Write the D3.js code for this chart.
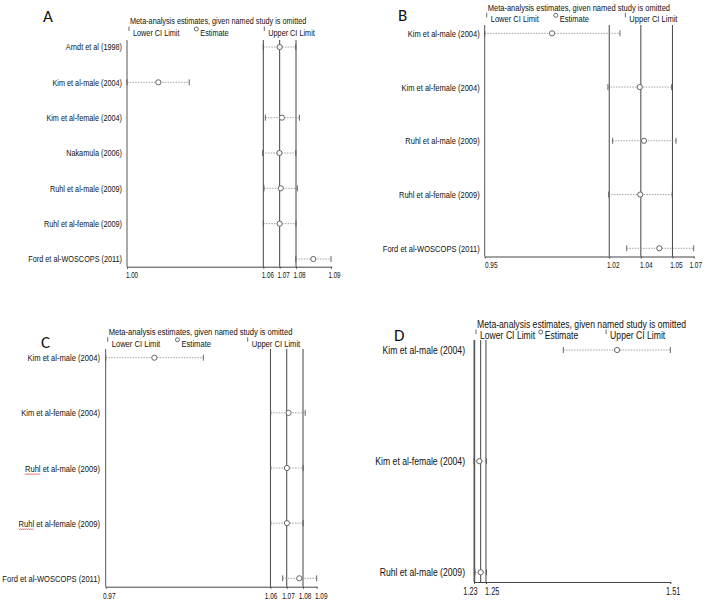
<!DOCTYPE html>
<meta charset="utf-8">
<head>
  <script src="https://d3js.org/d3.v7.min.js"></script>
</head>
<style>
  body { margin: 0; background: #fff; }
  svg text { fill: #111; font-family: "Liberation Sans", Arial, sans-serif; }
  .letter { font-family: Carlito, Lato, "Open Sans", sans-serif !important; font-size: 17px; fill: #111; }
</style>
<body>
<script>
  // ---- data (pooled estimate with one study omitted) ----
  // panel A
  var studiesA = ["Arndt et al (1998)", "Kim et al-male (2004)", "Kim et al-female (2004)", "Nakamula (2006)",
    "Ruhl et al-male (2009)", "Ruhl et al-female (2009)", "Ford et al-WOSCOPS (2011)"];
  var lowerA = [1.0628, 1.0028, 1.0637, 1.0625, 1.0631, 1.0628, 1.0771];
  var estA = [1.0700, 1.0166, 1.0710, 1.0699, 1.0705, 1.0700, 1.0848];
  var upperA = [1.0771, 1.0302, 1.0787, 1.0771, 1.0778, 1.0772, 1.0926];
  var overallA = [1.0628, 1.0700, 1.0772];
  var ticksA = [1.0028, 1.0628, 1.0700, 1.0772, 1.0926];

  // panel B
  var studiesB = ["Kim et al-male (2004)", "Kim et al-female (2004)", "Ruhl et al-male (2009)",
    "Ruhl et al-female (2009)", "Ford et al-WOSCOPS (2011)"];
  var lowerB = [0.9545, 1.0200, 1.0225, 1.0204, 1.0300];
  var estB = [0.9903, 1.0369, 1.0392, 1.0372, 1.0473];
  var upperB = [1.0264, 1.0539, 1.0562, 1.0542, 1.0656];
  var overallB = [1.0207, 1.0375, 1.0543];
  var ticksB = [0.9545, 1.0207, 1.0375, 1.0543, 1.0656];

  // panel C
  var studiesC = ["Kim et al-male (2004)", "Kim et al-female (2004)", "Ruhl et al-male (2009)",
    "Ruhl et al-female (2009)", "Ford et al-WOSCOPS (2011)"];
  var lowerC = [0.9721, 1.0613, 1.0613, 1.0613, 1.0678];
  var estC = [0.9984, 1.0710, 1.0701, 1.0701, 1.0768];
  var upperC = [1.0249, 1.0800, 1.0789, 1.0789, 1.0862];
  var overallC = [1.0612, 1.0700, 1.0788];
  var ticksC = [0.9721, 1.0612, 1.0700, 1.0788, 1.0862];

  // panel D
  var studiesD = ["Kim et al-male (2004)", "Kim et al-female (2004)", "Ruhl et al-male (2009)"];
  var lowerD = [1.3573, 1.2290, 1.2304];
  var estD = [1.4345, 1.2366, 1.2386];
  var upperD = [1.5110, 1.2467, 1.2470];
  var overallD = [1.2300, 1.2386, 1.2462];
  var ticksD = [1.2290, 1.2462, 1.5110];

  var legendTitle = "Meta-analysis estimates, given named study is omitted";
  var legendLabels = ["Lower CI Limit", "Estimate", "Upper CI Limit"];

  // ---- layout ----
  var panels = [
    { letter: "A", lx: 43, ly: 22, x0: 127, x1: 331, lineTop: 40, axisY: 266.7, rowTop: 47, rowBot: 259, gap: 5, titleW: 176.6,
      tickDx: [4.5, 4, 3.5, 3, 3], studies: studiesA, lower: lowerA, est: estA, upper: upperA, overall: overallA, ticks: ticksA },
    { letter: "B", lx: 398, ly: 21, x0: 484.7, x1: 693.7, lineTop: 25, axisY: 256.5, rowTop: 33.3, rowBot: 248.3, gap: 5, titleW: 182.7,
      tickDx: [6, 3.5, 5, 3.5, 1.5], studies: studiesB, lower: lowerB, est: estB, upper: upperB, overall: overallB, ticks: ticksB },
    { letter: "C", lx: 41, ly: 348, x0: 105.7, x1: 316.7, lineTop: 349, axisY: 586.7, rowTop: 357.7, rowBot: 578.3, gap: 5.7, titleW: 184,
      tickDx: [3, 0.2, 1.2, 1.6, 4], studies: studiesC, lower: lowerC, est: estC, upper: upperC, overall: overallC, ticks: ticksC, squiggle: "Ruhl" },
    { letter: "D", lx: 394, ly: 341, x0: 474, x1: 670.3, lineTop: 340, axisY: 582, rowTop: 350, rowBot: 572.3, gap: 9, titleW: 209.3,
      tickDx: [-4, 5.7, 2.4], studies: studiesD, lower: lowerD, est: estD, upper: upperD, overall: overallD, ticks: ticksD }
  ];

  var squeeze = 0.8;  // narrow typeface look

  var svg = d3.select("body").append("svg")
    .attr("width", 708)
    .attr("height", 607);

  var fmt = d3.format(".2f");

  function narrow(sel, fs, k) {
    k = k || squeeze;
    sel.style("font-size", fs + "px")
      .attr("lengthAdjust", "spacingAndGlyphs")
      .each(function () {
        var t = d3.select(this);
        t.attr("textLength", null);
        t.attr("textLength", this.getComputedTextLength() * k);
      });
  }

  panels.forEach(function (p) {
    var g = svg.append("g");

    var x = d3.scaleLinear()
      .domain([d3.min(p.lower), d3.max(p.upper)])
      .range([p.x0, p.x1]);
    var y = d3.scalePoint()
      .domain(p.studies)
      .range([p.rowTop, p.rowBot]);

    // font size: fit the legend title to its width in the picture
    var probe = g.append("text").style("font-size", "10px").text(legendTitle);
    var fs = 10 * p.titleW / (probe.node().getComputedTextLength() * squeeze);
    probe.remove();

    // panel letter
    svg.append("text").attr("class", "letter")
      .attr("x", p.lx).attr("y", p.ly).text(p.letter);

    // legend (title squeezed with a transform so its box stays true)
    var legendY = p.rowTop - 14.5;
    var w = p.x1 - p.x0;
    g.append("text")
      .attr("transform", "translate(" + (p.x0 + 3) + "," + (legendY - 11.5) + ") scale(" + squeeze + ",1)")
      .attr("dy", "0.35em")
      .style("font-size", fs + "px")
      .text(legendTitle);
    var keyX = [p.x0 + 2, p.x0 + 0.34 * w, p.x0 + 0.673 * w];
    keyX.forEach(function (kx, i) {
      if (i === 1) {
        g.append("circle").attr("cx", kx).attr("cy", legendY - 3.5).attr("r", 2)
          .attr("fill", "#fff").attr("stroke", "#444").attr("stroke-width", 0.8);
      } else {
        g.append("line").attr("x1", kx).attr("x2", kx)
          .attr("y1", legendY - 6).attr("y2", legendY - 1.5)
          .attr("stroke", "#444").attr("stroke-width", 0.8);
      }
      g.append("text")
        .attr("x", kx + 4).attr("y", legendY)
        .attr("dy", "0.35em")
        .text(legendLabels[i])
        .call(narrow, fs);
    });

    // left axis line
    g.append("line")
      .attr("x1", p.x0).attr("x2", p.x0)
      .attr("y1", p.lineTop).attr("y2", p.axisY)
      .attr("stroke", "#555").attr("stroke-width", 1);

    // overall CI and estimate lines
    g.selectAll(".overall").data(p.overall).join("line")
      .attr("class", "overall")
      .attr("x1", function (d) { return x(d); }).attr("x2", function (d) { return x(d); })
      .attr("y1", p.lineTop).attr("y2", p.axisY)
      .attr("stroke", "#444").attr("stroke-width", 1);

    // x axis
    var xAxis = d3.axisBottom(x)
      .tickValues(p.ticks)
      .tickFormat(fmt)
      .tickSize(2)
      .tickSizeOuter(0)
      .tickPadding(3.5);
    var ax = g.append("g")
      .attr("transform", "translate(0," + p.axisY + ")")
      .call(xAxis);
    ax.attr("font-family", null);
    ax.select(".domain").attr("stroke", "#444");
    ax.selectAll(".tick line").attr("stroke", "#444");
    ax.selectAll(".tick text")
      .attr("dx", function (d, i) { return p.tickDx[i]; })
      .attr("fill", "#111")
      .call(narrow, fs * 0.95, 0.72);

    // row labels
    var rl = g.append("g")
      .attr("transform", "translate(" + p.x0 + ",0)")
      .call(d3.axisLeft(y).tickSize(0).tickPadding(p.gap));
    rl.attr("font-family", null);
    rl.select(".domain").remove();
    rl.selectAll(".tick text")
      .attr("fill", "#111")
      .call(narrow, fs);

    // red spell-check squiggle under "Ruhl"
    if (p.squiggle) {
      rl.selectAll(".tick text").each(function (d) {
        if (d.indexOf(p.squiggle) !== 0) return;
        var len = +this.getAttribute("textLength");
        var t = g.append("text").style("font-size", fs + "px").text(p.squiggle);
        var sub = t.node().getComputedTextLength() * squeeze;
        t.remove();
        var sx = p.x0 - p.gap - len, ex = sx + sub, sy = y(d) + fs * 0.6;
        var pts = [];
        for (var xx = sx, k = 0; xx <= ex; xx += 1, k++) pts.push([xx, sy + (k % 2 ? 0.9 : -0.1)]);
        g.append("path").attr("d", d3.line()(pts))
          .attr("fill", "none").attr("stroke", "#e33").attr("stroke-width", 0.8);
      });
    }

    var rows = p.studies.map(function (s, i) {
      return { name: s, lo: p.lower[i], est: p.est[i], hi: p.upper[i] };
    });

    // CI dotted lines
    g.selectAll(".ci").data(rows).join("line")
      .attr("class", "ci")
      .attr("x1", function (d) { return x(d.lo); }).attr("x2", function (d) { return x(d.hi); })
      .attr("y1", function (d) { return y(d.name); }).attr("y2", function (d) { return y(d.name); })
      .attr("stroke", "#8a8a8a").attr("stroke-width", 0.8)
      .attr("stroke-dasharray", "1.5,1.2");

    // CI end caps
    ["lo", "hi"].forEach(function (k) {
      g.selectAll(".cap-" + k).data(rows).join("line")
        .attr("class", "cap-" + k)
        .attr("x1", function (d) { return x(d[k]); }).attr("x2", function (d) { return x(d[k]); })
        .attr("y1", function (d) { return y(d.name) - 3; }).attr("y2", function (d) { return y(d.name) + 3; })
        .attr("stroke", "#555").attr("stroke-width", 0.9);
    });

    // estimates
    g.selectAll(".est").data(rows).join("circle")
      .attr("class", "est")
      .attr("cx", function (d) { return x(d.est); })
      .attr("cy", function (d) { return y(d.name); })
      .attr("r", 2.6)
      .attr("fill", "#fff")
      .attr("stroke", "#555").attr("stroke-width", 0.9);
  });
</script>
</body>
